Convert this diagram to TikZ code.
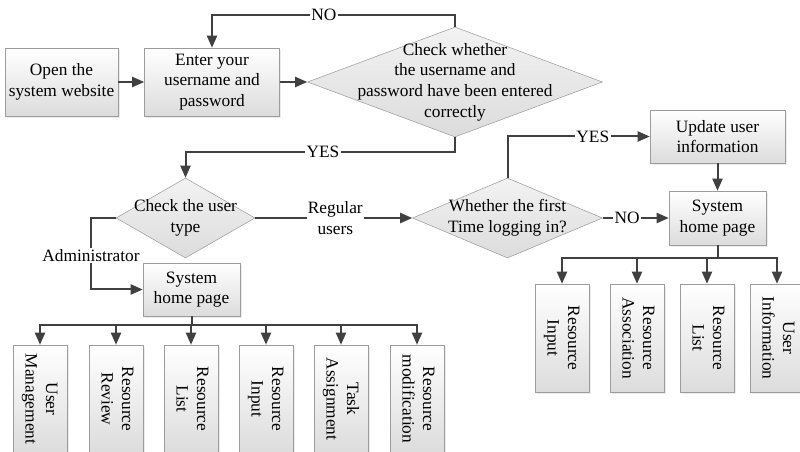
\documentclass[tikz,border=0pt]{standalone}
\usepackage{fontspec}
\setmainfont{Liberation Serif}
\usetikzlibrary{shapes.geometric, arrows.meta, shadows}
\definecolor{flowgray}{HTML}{404040}
\definecolor{edgegray}{HTML}{9C9C9C}
\definecolor{fillgray}{HTML}{DCDCDC}
\tikzset{
  box/.style={draw=edgegray, top color=white, bottom color=fillgray, align=center, inner sep=1pt,
    drop shadow={shadow xshift=1.2pt, shadow yshift=-1.2pt, fill=black!15}},
  funcbox/.style={box, minimum width=40.5pt, minimum height=81pt},
  decision/.style={diamond, draw=edgegray, top color=white!95!black, bottom color=fillgray, inner sep=0pt},
  dtext/.style={align=center},
  flow/.style={draw=flowgray, line width=1.5pt, -{Triangle[length=9pt,width=7.5pt]}},
  lbl/.style={fill=white, inner sep=1pt},
}
\newcommand{\vlabel}[1]{\rotatebox{-90}{\begin{tabular}{@{}c@{}}#1\end{tabular}}}

\begin{document}
\begin{tikzpicture}[x=0.75pt, y=-0.75pt, font=\fontsize{13}{15.5}\selectfont]
  \useasboundingbox (0,0) rectangle (800,452);
  \clip (0,0) rectangle (800,452);
  % login
  \node[box, minimum width=84.75pt, minimum height=51pt] (open) at (61.5,82) {Open the\\system website};
  \node[box, minimum width=101.25pt, minimum height=51pt] (enter) at (212,82) {Enter your\\username and\\password};
  \node[decision, minimum width=221.25pt, minimum height=82.5pt] (check) at (455,82) {};
  \node[dtext] at (check) {Check whether\\the username and\\password have been entered\\correctly};
  % user type
  \node[decision, minimum width=104.25pt, minimum height=60pt] (usertype) at (185.5,218) {};
  \node[dtext] at (usertype) {Check the user\\type};
  \node[decision, minimum width=142.5pt, minimum height=60pt] (firsttime) at (507.5,218) {};
  \node[dtext] at (firsttime) {Whether the first\\Time logging in?};
  \node[box, minimum width=101.25pt, minimum height=39.75pt] (update) at (717.5,136.5) {Update user\\information};
  \node[box, minimum width=72.75pt, minimum height=40.5pt] (homeR) at (717.5,218) {System\\home page};
  \node[box, minimum width=72.75pt, minimum height=39.75pt] (homeL) at (191.5,289.5) {System\\home page};
  % administrator functions
  \node[funcbox] (usermgmt) at (40,399) {\vlabel{User\\Management}};
  \node[funcbox] (review) at (116,399) {\vlabel{Resource\\Review}};
  \node[funcbox] (listL) at (191,399) {\vlabel{Resource\\List}};
  \node[funcbox] (inputL) at (266,399) {\vlabel{Resource\\Input}};
  \node[funcbox] (task) at (341,399) {\vlabel{Task\\Assignment}};
  \node[funcbox] (modif) at (417,399) {\vlabel{Resource\\modification}};
  % regular user functions
  \node[funcbox] (inputR) at (562,338) {\vlabel{Resource\\Input}};
  \node[funcbox] (assoc) at (637,338) {\vlabel{Resource\\Association}};
  \node[funcbox] (listR) at (707,338) {\vlabel{Resource\\List}};
  \node[funcbox] (userinfo) at (777,338) {\vlabel{User\\Information}};
  % turning points
  \coordinate (nolevel) at (0,15);
  \coordinate (yeslevel) at (0,152);
  \coordinate (admcorner) at (91,218);
  % connectors
  \draw[flow] (open) -- (enter);
  \draw[flow] (enter) -- (check);
  \draw[flow] (check.north) -- (check.north |- nolevel) -| node[lbl, pos=0.27] {NO} (enter.north);
  \draw[flow] (check.south) -- (check.south |- yeslevel) -| node[lbl, pos=0.245] {YES} (usertype.north);
  \draw[flow] (usertype.west) -- (admcorner) |- node[lbl, pos=0.265] {Administrator} (homeL.west);
  \draw[flow] (usertype.east) -- node[lbl, pos=0.51, align=center] {Regular\\users} (firsttime.west);
  \draw[flow] (firsttime.east) -- node[lbl, pos=0.37] {NO} (homeR.west);
  \draw[flow] (firsttime.north) |- node[lbl, pos=0.8] {YES} (update.west);
  \draw[flow] (update) -- (homeR);
  \draw[flow] (homeL.south) -- ++(0,9) -| (usermgmt.north);
  \draw[flow] (homeL.south) -- ++(0,9) -| (review.north);
  \draw[flow] (homeL.south) -- ++(0,9) -| (listL.north);
  \draw[flow] (homeL.south) -- ++(0,9) -| (inputL.north);
  \draw[flow] (homeL.south) -- ++(0,9) -| (task.north);
  \draw[flow] (homeL.south) -- ++(0,9) -| (modif.north);
  \draw[flow] (homeR.south) -- ++(0,13) -| (inputR.north);
  \draw[flow] (homeR.south) -- ++(0,13) -| (assoc.north);
  \draw[flow] (homeR.south) -- ++(0,13) -| (listR.north);
  \draw[flow] (homeR.south) -- ++(0,13) -| (userinfo.north);
\end{tikzpicture}
\end{document}
